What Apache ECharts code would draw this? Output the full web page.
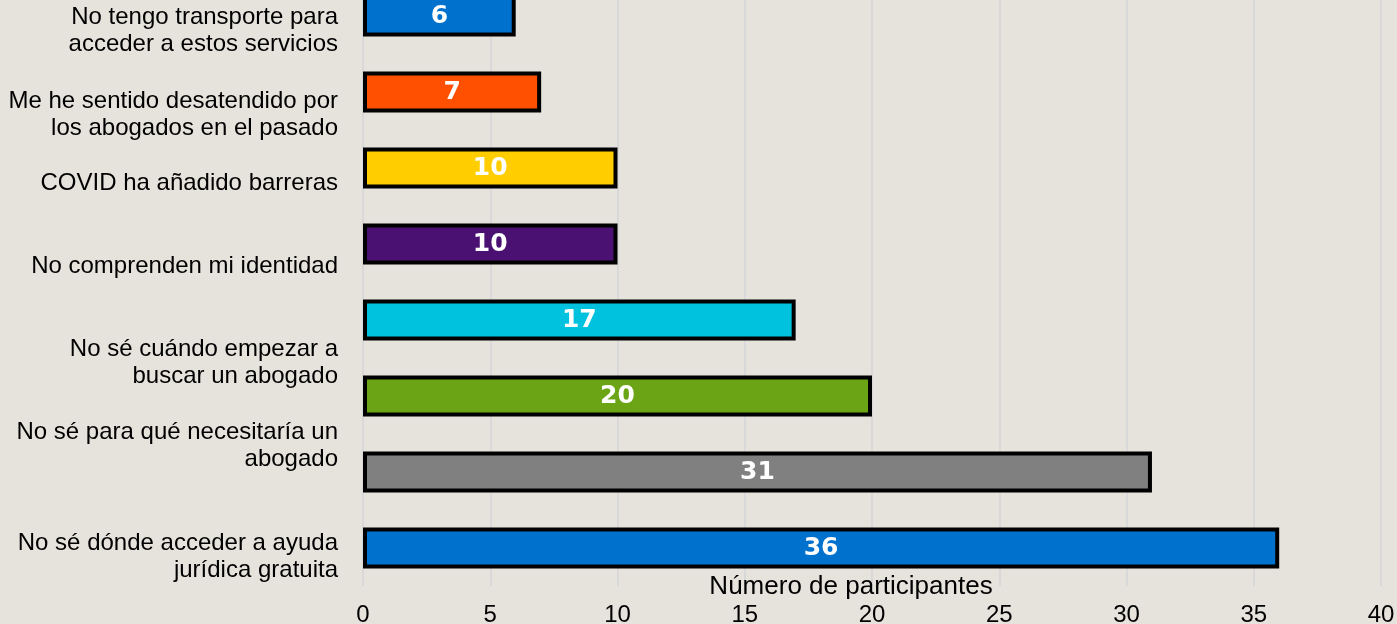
<!DOCTYPE html>
<html>
<head>
<meta charset="utf-8">
<script src="https://cdn.jsdelivr.net/npm/echarts@6/dist/echarts.min.js"></script>
<style>
  html, body { margin: 0; padding: 0; background: #e6e3dc; }
  #chart { width: 1397px; height: 624px; }
</style>
</head>
<body>
<div id="chart"></div>
<script>
  // valores de las barras, de arriba a abajo
  var barKeys = ['b1', 'b2', 'b3', 'b4', 'b5', 'b6', 'b7', 'b8'];
  var barValues = [6, 7, 10, 10, 17, 20, 31, 36];
  var barColors = ['#0072ce', '#ff4f00', '#ffcd00', '#4a1173', '#00c1de', '#6ba516', '#808080', '#0072ce'];

  // etiquetas del eje (tal como aparecen, de arriba a abajo)
  var labelTexts = [
    'No tengo transporte para\nacceder a estos servicios',
    'Me he sentido desatendido por\nlos abogados en el pasado',
    'COVID ha añadido barreras',
    'No comprenden mi identidad',
    'No sé cuándo empezar a\nbuscar un abogado',
    'No sé para qué necesitaría un\nabogado',
    'No sé dónde acceder a ayuda\njurídica gratuita'
  ];
  // posición vertical de cada etiqueta, en unidades de categoría
  var labelPos = [0.69, 1.80, 2.70, 3.79, 5.06, 6.16, 7.62];

  var xTicks = [0, 5, 10, 15, 20, 25, 30, 35, 40];

  var chart = echarts.init(document.getElementById('chart'));

  chart.setOption({
    backgroundColor: '#e6e3dc',
    animation: false,
    textStyle: { fontFamily: "'Liberation Sans', Arial, sans-serif" },
    grid: { left: 363, right: 16, top: -22, bottom: 38, containLabel: false, outerBoundsMode: 'none' },
    xAxis: {
      type: 'value',
      min: xTicks[0],
      max: xTicks[xTicks.length - 1],
      interval: 5,
      name: 'Número de participantes',
      nameLocation: 'middle',
      nameGap: -12,
      nameMoveOverlap: false,
      nameTextStyle: { color: '#000', fontSize: 26, padding: [0, 42, 0, 0] },
      axisLine: { show: false },
      axisTick: { show: false },
      axisLabel: { color: '#000', fontSize: 24, margin: 17 },
      splitLine: { show: true, lineStyle: { color: '#d8d8d8', width: 2 } }
    },
    yAxis: [
      {
        type: 'category',
        data: barKeys,
        inverse: true,
        axisLine: { show: false },
        axisTick: { show: false },
        axisLabel: { show: false },
        splitLine: { show: false }
      },
      {
        type: 'value',
        min: 0,
        max: barKeys.length,
        inverse: true,
        position: 'left',
        axisLine: { show: false },
        axisTick: { show: false },
        splitLine: { show: false },
        axisLabel: {
          customValues: labelPos,
          color: '#000',
          fontSize: 24,
          lineHeight: 27,
          margin: 25,
          align: 'right',
          formatter: function (v) {
            var i = labelPos.indexOf(v);
            return i >= 0 ? labelTexts[i] : '';
          }
        }
      }
    ],
    series: [
      {
        type: 'bar',
        yAxisIndex: 0,
        barWidth: 41,
        data: barValues.map(function (v, i) {
          return { value: v, itemStyle: { color: barColors[i] } };
        }),
        itemStyle: { borderColor: '#000', borderWidth: 4 },
        label: {
          show: true,
          position: 'inside',
          color: '#fff',
          fontFamily: 'DejaVu Sans',
          fontWeight: 'bold',
          fontSize: 25
        }
      }
    ]
  });
</script>
</body>
</html>
